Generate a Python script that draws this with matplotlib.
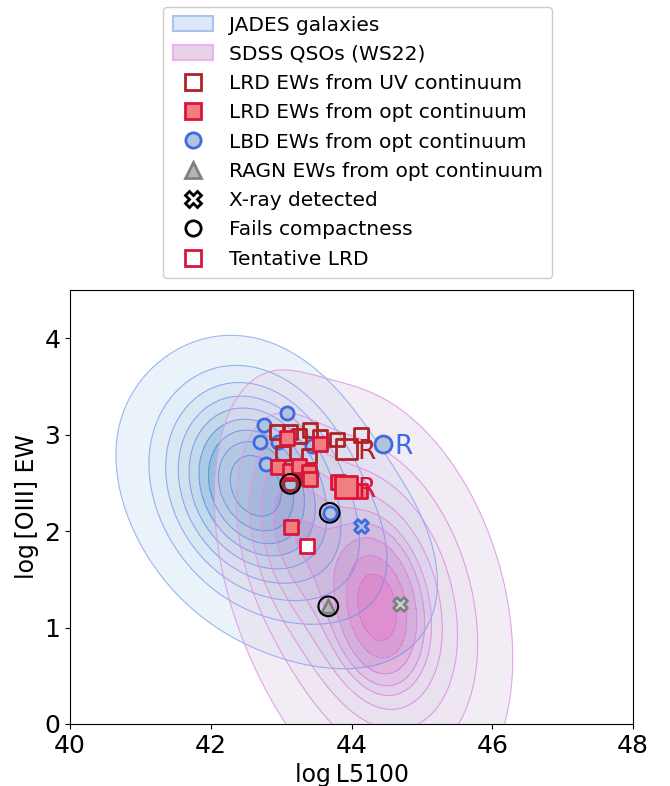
import numpy as np
import matplotlib
matplotlib.use("Agg")
import matplotlib.pyplot as plt
from matplotlib.patches import Patch
from matplotlib.lines import Line2D

# ---------------- data ----------------
# density models (mixture components) for the two reference populations
jades_means = [(42.6, 2.55), (43.0, 2.1)]
jades_sds = [(0.65, 0.58), (1.08, 0.74)]
jades_rho = [-0.15, -0.42]
jades_w = [0.55, 0.45]

sdss_means = [(44.37, 1.2), (44.3, 1.3), (43.05, 2.2)]
sdss_sds = [(0.3, 0.38), (0.88, 0.98), (0.45, 0.66)]
sdss_rho = [-0.2, -0.28, -0.2]
sdss_w = [0.2, 0.68, 0.12]

kde_props = list(np.linspace(0.05, 1, 10))

# LRD EWs from UV continuum (hollow squares)
lrd_uv_x = [42.94, 43.13, 43.25, 43.41, 43.55, 43.03, 43.39, 43.79, 44.14, 43.15, 43.39, 43.13]
lrd_uv_y = [3.03, 3.03, 2.99, 3.05, 2.98, 2.81, 2.78, 2.95, 3.00, 2.60, 2.55, 2.50]
lrd_uv_rx = [43.93]
lrd_uv_ry = [2.85]

# LRD EWs from optical continuum (filled squares)
lrd_opt_x = [43.08, 43.55, 42.95, 43.13, 43.25, 43.39, 43.41, 43.14, 43.81, 44.12]
lrd_opt_y = [2.97, 2.90, 2.66, 2.62, 2.68, 2.61, 2.54, 2.04, 2.51, 2.42]
lrd_opt_rx = [43.92]
lrd_opt_ry = [2.46]

# LBD EWs from optical continuum (circles)
lbd_x = [43.08, 42.76, 42.70, 42.96, 42.78, 43.58, 43.41, 43.44, 43.69, 43.13, 43.43]
lbd_y = [3.23, 3.10, 2.92, 2.92, 2.70, 2.90, 2.62, 2.88, 2.19, 2.49, 2.59]
lbd_rx = [44.45]
lbd_ry = [2.90]

# RAGN
ragn_x = [43.67]
ragn_y = [1.22]

# X-ray detected
xray_lbd_x = [44.13]
xray_lbd_y = [2.05]
xray_ragn_x = [44.69]
xray_ragn_y = [1.24]

# fails compactness
fail_x = [43.13, 43.69, 43.67]
fail_y = [2.49, 2.19, 1.22]

# tentative LRD
tent_x = [43.37]
tent_y = [1.85]

legend_labels = ["JADES galaxies", "SDSS QSOs (WS22)", "LRD EWs from UV continuum",
                 "LRD EWs from opt continuum", "LBD EWs from opt continuum",
                 "RAGN EWs from opt continuum", "X-ray detected", "Fails compactness",
                 "Tentative LRD"]

# ---------------- helpers ----------------
def mixture(X, Y, means, sds, rhos, ws):
    Z = np.zeros_like(X)
    for (mx, my), (sx, sy), r, w in zip(means, sds, rhos, ws):
        dx = (X - mx) / sx
        dy = (Y - my) / sy
        q = (dx * dx - 2 * r * dx * dy + dy * dy) / (1 - r * r)
        Z += w * np.exp(-q / 2) / (2 * np.pi * sx * sy * np.sqrt(1 - r * r))
    return Z

def iso_levels(Z, props):
    z = np.sort(Z.ravel())
    c = np.cumsum(z)
    c /= c[-1]
    lv = np.interp(props[:-1], c, z)
    return list(lv) + [Z.max() * 1.001]

def apparent(hexes, a):
    out = []
    for h in hexes:
        t = np.array(matplotlib.colors.to_rgb(h))
        c = np.clip((t - (1 - a)) / a, 0, 1)
        out.append((*c, a))
    return out

gx = np.linspace(36, 52, 480)
gy = np.linspace(-5, 9, 480)
X, Y = np.meshgrid(gx, gy)
ZJ = mixture(X, Y, jades_means, jades_sds, jades_rho, jades_w)
ZS = mixture(X, Y, sdss_means, sdss_sds, sdss_rho, sdss_w)
LJ = iso_levels(ZJ, kde_props)
LS = iso_levels(ZS, kde_props)

blue_app = ["#ecf3fa", "#e4eef8", "#dae8f4", "#cfe2f0", "#c1daec", "#a9cbe5", "#93bfdf", "#84b6da", "#77aed6"]
pink_app = ["#f3edf6", "#efe8f3", "#ebe2f0", "#e8dcee", "#e4d2ea", "#e1c6e5", "#e0b6de", "#e4a6d8", "#e896d2"]
blue_cols = apparent(blue_app, 0.62)
pink_cols = apparent(pink_app, 0.5)

# ---------------- figure ----------------
fig = plt.figure(figsize=(6.7, 7.86), dpi=100)
ax = fig.add_axes([0.1045, 0.0789, 0.8403, 0.5521])

ax.contourf(X, Y, ZJ, levels=LJ, colors=blue_cols, zorder=1)
ax.contourf(X, Y, ZS, levels=LS, colors=pink_cols, zorder=2)
ax.contour(X, Y, ZJ, levels=LJ[:-1], colors="#5f86ea", linewidths=0.8, alpha=0.55, zorder=3)
ax.contour(X, Y, ZS, levels=LS[:-1], colors="#e08ce6", linewidths=0.8, alpha=0.75, zorder=3)

ms_c = 90
ms_s = 100
# LBD
ax.scatter(lbd_x, lbd_y, s=ms_c, marker="o", facecolor="#b0c4de", edgecolor="#4169e1", linewidth=2, zorder=5)
ax.scatter(lbd_rx, lbd_ry, s=150, marker="o", facecolor="#b0c4de", edgecolor="#4169e1", linewidth=2, zorder=5)
# LRD UV
ax.scatter(lrd_uv_x, lrd_uv_y, s=ms_s, marker="s", facecolor="none", edgecolor="#b22222", linewidth=2, zorder=6)
ax.scatter(lrd_uv_rx, lrd_uv_ry, s=220, marker="s", facecolor="none", edgecolor="#b22222", linewidth=2, zorder=6)
# LRD opt
ax.scatter(lrd_opt_x, lrd_opt_y, s=ms_s, marker="s", facecolor="#f08080", edgecolor="#dc143c", linewidth=2, zorder=7)
ax.scatter(lrd_opt_rx, lrd_opt_ry, s=245, marker="s", facecolor="#f08080", edgecolor="#dc143c", linewidth=2, zorder=7)
# tentative
ax.scatter(tent_x, tent_y, s=ms_s, marker="s", facecolor="white", edgecolor="#dc143c", linewidth=2, zorder=7)
# RAGN
ax.scatter(ragn_x, ragn_y, s=95, marker="^", facecolor="#b4b4b4", edgecolor="#808080", linewidth=2, zorder=7)
# X-ray
ax.scatter(xray_lbd_x, xray_lbd_y, s=100, marker="X", facecolor="#b0c4de", edgecolor="#4169e1", linewidth=2, zorder=7)
ax.scatter(xray_ragn_x, xray_ragn_y, s=100, marker="X", facecolor="#d3d3d3", edgecolor="#808080", linewidth=2, zorder=7)
# fails compactness
ax.scatter(fail_x, fail_y, s=200, marker="o", facecolor="none", edgecolor="black", linewidth=1.5, zorder=8)

# R labels
for xs, ys, col in [(lrd_uv_rx, lrd_uv_ry, "#b22222"), (lrd_opt_rx, lrd_opt_ry, "#dc143c"), (lbd_rx, lbd_ry, "#4169e1")]:
    for xv, yv in zip(xs, ys):
        ax.annotate("R", (xv, yv), xytext=(8, -2), textcoords="offset points",
                    fontsize=19, color=col, va="center", ha="left", zorder=9)

ax.set_xlim(40, 48)
ax.set_ylim(0, 4.5)
ax.set_xticks([40, 42, 44, 46, 48])
ax.set_yticks([0, 1, 2, 3, 4])
ax.tick_params(labelsize=18)
ax.set_xlabel("log\u2009L5100", fontsize=17)
ax.set_ylabel("log\u2009[OIII] EW", fontsize=17)

handles = [
    Patch(facecolor="#dbe8f5", edgecolor="#a9c2f0", linewidth=1.5),
    Patch(facecolor="#e8d2e8", edgecolor="#efb0ef", linewidth=1.5),
    Line2D([], [], ls="none", marker="s", ms=11, mfc="none", mec="#b22222", mew=2),
    Line2D([], [], ls="none", marker="s", ms=11, mfc="#f08080", mec="#dc143c", mew=2),
    Line2D([], [], ls="none", marker="o", ms=11, mfc="#b0c4de", mec="#4169e1", mew=2),
    Line2D([], [], ls="none", marker="^", ms=11, mfc="#b4b4b4", mec="#808080", mew=2),
    Line2D([], [], ls="none", marker="X", ms=11, mfc="white", mec="black", mew=2),
    Line2D([], [], ls="none", marker="o", ms=11, mfc="none", mec="black", mew=2),
    Line2D([], [], ls="none", marker="s", ms=11, mfc="white", mec="#dc143c", mew=2),
]
leg = ax.legend(handles, legend_labels, loc="lower center", bbox_to_anchor=(0.511, 1.005),
                fontsize=14.5, labelspacing=0.51, handlelength=2.0, handleheight=0.75,
                borderpad=0.45, framealpha=1)

fig.savefig("out.png", dpi=100)
